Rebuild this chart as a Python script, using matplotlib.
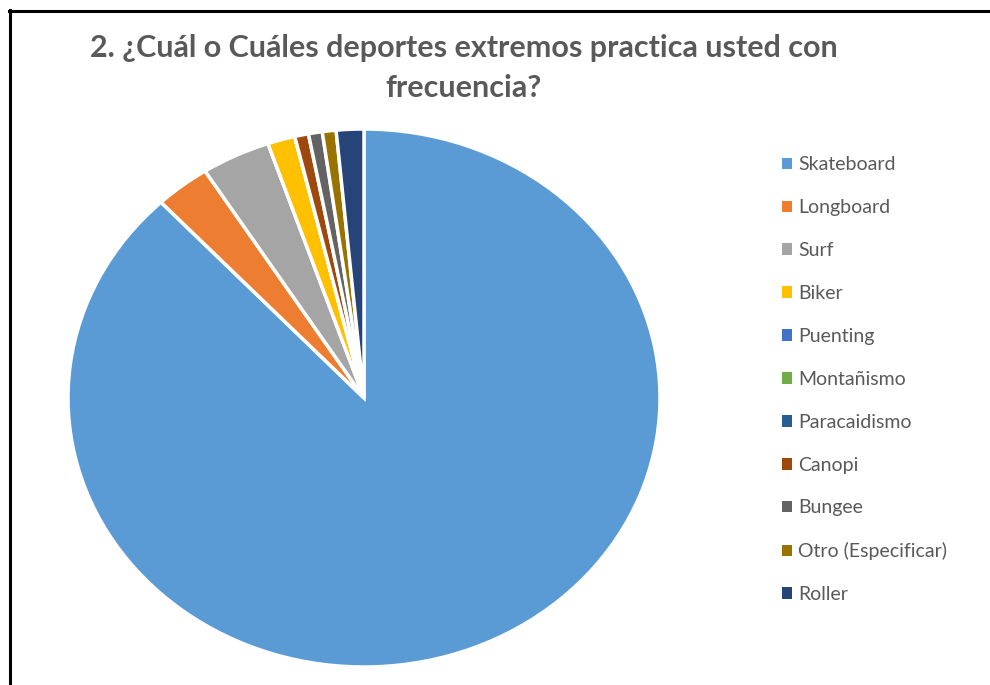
import matplotlib
matplotlib.use("Agg")
import matplotlib.pyplot as plt
from matplotlib.lines import Line2D
from matplotlib.patches import Patch

categories = ["Skateboard", "Longboard", "Surf", "Biker", "Puenting", "Montañismo",
              "Paracaidismo", "Canopi", "Bungee", "Otro (Especificar)", "Roller"]
values = [117, 4, 5, 2, 0, 0, 0, 1, 1, 1, 2]
colors = ["#5B9BD5", "#ED7D31", "#A5A5A5", "#FFC000", "#4472C4", "#70AD47",
          "#255E91", "#9E480E", "#636363", "#997300", "#264478"]
title = "2. ¿Cuál o Cuáles deportes extremos practica usted con\nfrecuencia?"

W, H = 990, 685
fig = plt.figure(figsize=(W / 100, H / 100), dpi=100)

cx, cy, rx, ry = 364, 398, 296, 269
ax = fig.add_axes([(cx - rx) / W, (H - cy - ry) / H, 2 * rx / W, 2 * ry / H])
ax.pie(values, colors=colors, startangle=90, counterclock=False,
       wedgeprops=dict(edgecolor="white", linewidth=2.5))
ax.set_aspect("auto")
ax.set_xlim(-1, 1)
ax.set_ylim(-1, 1)
ax.axis("off")

fig.text(464 / W, 1 - 68 / H, title, ha="center", va="center", fontsize=22,
         fontweight="bold", color="#595959", family="Lato", linespacing=1.5)

handles = [Patch(facecolor=c, edgecolor="none") for c in colors]
leg = fig.legend(handles, categories, loc="upper left",
                 bbox_to_anchor=(764 / W, 1 - 139 / H), frameon=False,
                 handlelength=0.55, handleheight=0.55, handletextpad=0.3,
                 labelspacing=1.33, prop=dict(family="Lato", size=14))
for t in leg.get_texts():
    t.set_color("#595959")

fig.add_artist(Line2D([10 / W, 10 / W], [0, 1 - 10 / H], transform=fig.transFigure,
                      color="black", linewidth=2.2))
fig.add_artist(Line2D([9 / W, 1], [1 - 11 / H, 1 - 11 / H], transform=fig.transFigure,
                      color="black", linewidth=2.2))

fig.savefig("out.png", dpi=100)
